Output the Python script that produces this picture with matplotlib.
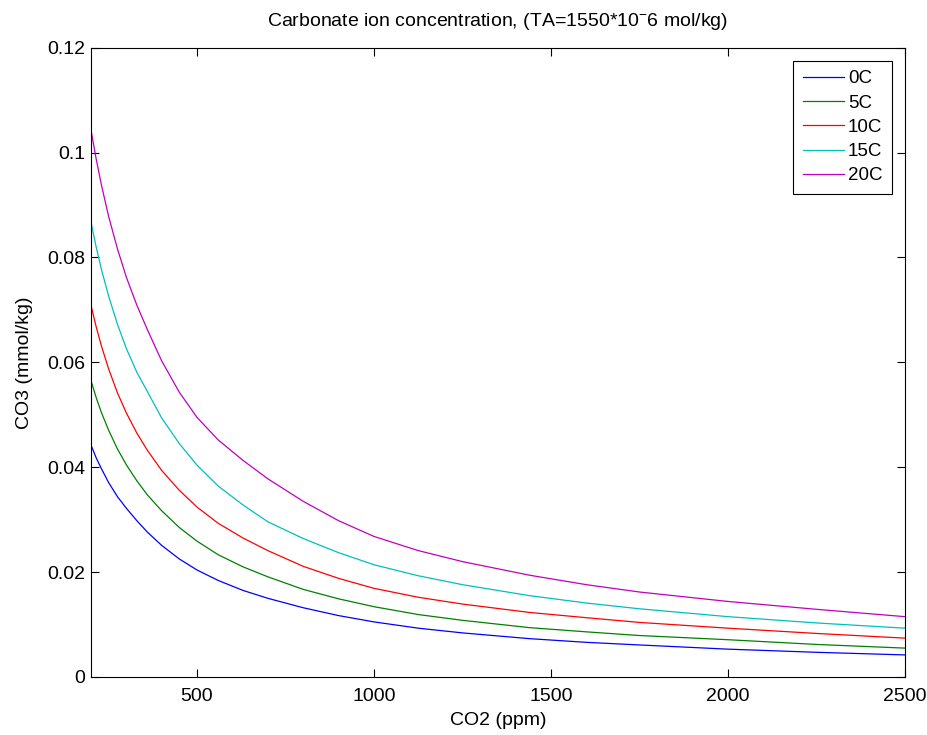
import numpy as np
import matplotlib
matplotlib.use("Agg")
import matplotlib.pyplot as plt
from matplotlib.ticker import FuncFormatter

plt.rcParams['font.family'] = ['Liberation Sans', 'DejaVu Sans']
plt.rcParams['mathtext.fontset'] = 'custom'
plt.rcParams['mathtext.rm'] = 'Liberation Sans'
plt.rcParams['mathtext.default'] = 'regular'

# CO2 (ppm) sample points
co2 = [200, 215, 230, 250, 275, 300, 330, 360, 400, 450, 500, 560, 630, 700,
       800, 900, 1000, 1125, 1250, 1440, 1600, 1750, 2000, 2250, 2500]

# carbonate ion, mmol/kg, one series per temperature
co3_0c = [0.0443, 0.0418, 0.0397, 0.0371, 0.0344, 0.0322, 0.0298, 0.0276, 0.0251,
          0.0225, 0.0204, 0.0184, 0.0165, 0.0150, 0.0132, 0.0117, 0.0105, 0.0093,
          0.0084, 0.0073, 0.0066, 0.0061, 0.0053, 0.0047, 0.0042]
co3_5c = [0.0566, 0.0533, 0.0504, 0.0471, 0.0435, 0.0405, 0.0374, 0.0347, 0.0317,
          0.0285, 0.0259, 0.0233, 0.0210, 0.0191, 0.0167, 0.0149, 0.0134, 0.0119,
          0.0108, 0.0094, 0.0086, 0.0079, 0.0071, 0.0062, 0.0055]
co3_10c = [0.0710, 0.0668, 0.0631, 0.0588, 0.0542, 0.0504, 0.0465, 0.0432, 0.0394,
           0.0356, 0.0324, 0.0293, 0.0265, 0.0241, 0.0211, 0.0188, 0.0169, 0.0152,
           0.0139, 0.0123, 0.0113, 0.0104, 0.0093, 0.0083, 0.0074]
co3_15c = [0.0869, 0.0820, 0.0777, 0.0727, 0.0673, 0.0627, 0.0581, 0.0544, 0.0494,
           0.0445, 0.0404, 0.0364, 0.0328, 0.0296, 0.0264, 0.0237, 0.0214, 0.0193,
           0.0176, 0.0155, 0.0141, 0.0130, 0.0115, 0.0103, 0.0093]
co3_20c = [0.1045, 0.0988, 0.0938, 0.0879, 0.0817, 0.0763, 0.0709, 0.0662, 0.0603,
           0.0543, 0.0495, 0.0452, 0.0413, 0.0378, 0.0335, 0.0298, 0.0268, 0.0241,
           0.0220, 0.0194, 0.0176, 0.0162, 0.0144, 0.0129, 0.0115]

labels = ['0C', '5C', '10C', '15C', '20C']
series = [co3_0c, co3_5c, co3_10c, co3_15c, co3_20c]
colors = [(0, 0, 1), (0, 0.5, 0), (1, 0, 0), (0, 0.75, 0.75), (0.75, 0, 0.75)]

fig = plt.figure(figsize=(9.27, 7.35), dpi=100)
ax = fig.add_axes([0.098, 0.079, 0.878, 0.856])

for y, lab, c in zip(series, labels, colors):
    ax.plot(co2, y, color=c, lw=0.9, label=lab)

ax.set_xlim(200, 2500)
ax.set_ylim(0, 0.12)
ax.set_xticks([500, 1000, 1500, 2000, 2500])
ax.set_yticks([0, 0.02, 0.04, 0.06, 0.08, 0.1, 0.12])
ax.yaxis.set_major_formatter(FuncFormatter(lambda v, p: '%g' % v))
ax.tick_params(direction='in', length=6, width=0.8, top=True, right=True,
               labelsize=14)
ax.tick_params(axis='x', pad=8)
ax.tick_params(axis='y', pad=4)
for s in ax.spines.values():
    s.set_linewidth(0.8)

ax.set_title(r'Carbonate ion concentration, (TA=1550*10$^{-}$6 mol/kg)',
             fontsize=14, pad=16)
ax.set_xlabel('CO2 (ppm)', fontsize=14, labelpad=5)
ax.set_ylabel('CO3 (mmol/kg)', fontsize=14, labelpad=10)

leg = ax.legend(loc='upper right', fontsize=13.5, fancybox=False, framealpha=1,
                edgecolor='black', handlelength=2.2, labelspacing=0.38,
                borderaxespad=0.7, borderpad=0.5, handletextpad=0.2)
leg.get_frame().set_linewidth(0.8)

fig.savefig('out.png', dpi=100)
